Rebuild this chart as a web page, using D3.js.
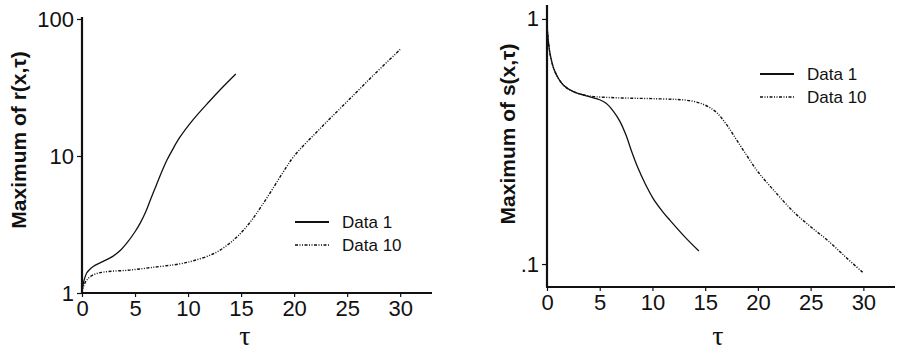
<!DOCTYPE html>
<html>
<head>
<meta charset="utf-8">
<script src="https://cdn.jsdelivr.net/npm/d3@7"></script>
<style>
  html, body { margin: 0; padding: 0; background: #fff; }
  svg { display: block; }
  text { font-family: "Liberation Sans", Arial, sans-serif; fill: #111; }
</style>
</head>
<body>
<svg id="chart" width="900" height="354"></svg>
<script>
// ---- data ----
const seriesNames = ["Data 1", "Data 10"];
const xTicks = [0, 5, 10, 15, 20, 25, 30];

// left panel: maximum of r(x, tau)
const rTau1 = [0, 0.1, 0.25, 0.44, 0.7, 1.06, 1.5, 2, 2.9, 3.7, 4.2, 5, 5.5, 6, 6.5, 7, 7.5, 8, 8.5, 9.2, 10.5, 12, 13.3, 14.5];
const rVal1 = [1, 1.15, 1.28, 1.40, 1.48, 1.56, 1.63, 1.70, 1.85, 2.08, 2.30, 2.80, 3.25, 3.9, 4.9, 6.1, 7.6, 9.3, 11.0, 13.6, 18.5, 25, 32, 39.7];
const rTau10 = [0, 0.13, 0.44, 1, 2, 4.5, 6.7, 9.2, 10.5, 12.5, 13.9, 15, 16, 17, 18, 19, 20, 22.5, 25, 27.5, 30];
const rVal10 = [1, 1.11, 1.24, 1.35, 1.42, 1.47, 1.54, 1.63, 1.72, 1.95, 2.3, 2.75, 3.4, 4.4, 5.8, 7.7, 10.0, 16, 25, 39, 60];
const rTicks = [1, 10, 100];
const rTickLabels = ["1", "10", "100"];

// right panel: maximum of s(x, tau)
const sTau1 = [0, 0.28, 0.75, 1.54, 2.5, 4, 5, 5.6, 6.3, 6.9, 7.5, 8, 8.6, 9.3, 10.07, 11, 11.65, 13, 14.4];
const sVal1 = [0.945, 0.724, 0.61, 0.538, 0.505, 0.482, 0.468, 0.453, 0.42, 0.383, 0.335, 0.29, 0.248, 0.213, 0.185, 0.163, 0.151, 0.13, 0.113];
const sTau10 = [0, 0.28, 0.75, 1.54, 2.5, 4, 6, 8, 10, 12, 13, 14, 15, 16, 17, 18, 19, 20, 21.5, 23.4, 25, 26.6, 28.3, 30];
const sVal10 = [0.945, 0.724, 0.61, 0.538, 0.505, 0.485, 0.478, 0.475, 0.473, 0.47, 0.467, 0.46, 0.445, 0.418, 0.372, 0.32, 0.275, 0.238, 0.2, 0.163, 0.142, 0.125, 0.107, 0.092];
const sTicks = [1, 0.1];
const sTickLabels = ["1", ".1"];

const svg = d3.select("#chart");
const dashPattern = "3,1.5,1,1.5,1,1.5";

function zip(xs, ys) { return xs.map((x, i) => ({ x, y: ys[i] })); }

function drawPanel(p) {
  const g = svg.append("g");
  const x = d3.scaleLinear().domain([0, 33]).range([p.left, p.right]);
  const y = d3.scaleLog().domain(p.yDomain).range([p.bottom, p.top]);

  // curves
  const line = d3.line().x(d => x(d.x)).y(d => y(d.y)).curve(d3.curveCatmullRom.alpha(0.5));
  p.series.forEach((s, i) => {
    g.append("path")
      .datum(s)
      .attr("fill", "none")
      .attr("stroke", "#111")
      .attr("stroke-width", i === 0 ? 1.3 : 1.4)
      .attr("stroke-dasharray", i === 0 ? null : dashPattern)
      .attr("d", line);
  });

  // axes
  const xAxis = d3.axisBottom(x).tickValues(xTicks).tickSize(4).tickSizeOuter(0).tickPadding(3);
  const gx = g.append("g").attr("transform", `translate(0,${p.bottom})`).call(xAxis);
  const yAxis = d3.axisLeft(y).tickValues(p.yTicks)
    .tickFormat((d, i) => p.yTickLabels[i]).tickSize(5).tickSizeOuter(0).tickPadding(3);
  const gy = g.append("g").attr("transform", `translate(${p.left},0)`).call(yAxis);

  [gx, gy].forEach(a => {
    a.select(".domain").attr("stroke", "#111").attr("stroke-width", 2.2);
    a.selectAll(".tick line").attr("stroke", "#111").attr("stroke-width", 1.2);
    a.selectAll(".tick text").attr("font-size", 22).attr("fill", "#111")
      .style("font-family", '"Liberation Sans", Arial, sans-serif');
  });
  gy.select(".domain").attr("d", `M0,${p.bottom}V${p.yAxisTop}`);
  gx.select(".domain").attr("d", `M${p.left - 1},0H${p.right}`);

  // axis titles
  g.append("text")
    .attr("transform", `translate(${p.yLabelX},${p.yLabelY}) rotate(-90)`)
    .attr("text-anchor", "middle")
    .attr("dominant-baseline", "central")
    .attr("font-size", 21)
    .attr("font-weight", "bold")
    .text(p.yLabel);
  g.append("text")
    .attr("x", p.tauX).attr("y", 345)
    .attr("text-anchor", "middle")
    .style("font-family", '"Liberation Serif", "DejaVu Serif", serif')
    .attr("font-size", 28)
    .text("τ");

  // legend
  seriesNames.forEach((name, i) => {
    const ly = p.legendY + i * 23;
    g.append("line")
      .attr("x1", p.legendX).attr("x2", p.legendX + 34)
      .attr("y1", ly).attr("y2", ly)
      .attr("stroke", "#111")
      .attr("stroke-width", i === 0 ? 2 : 1.6)
      .attr("stroke-dasharray", i === 0 ? null : dashPattern);
    g.append("text")
      .attr("x", p.legendX + 47).attr("y", ly)
      .attr("dominant-baseline", "central")
      .attr("font-size", 17)
      .text(name);
  });
}

drawPanel({
  left: 82, right: 432, top: 19, bottom: 293, yAxisTop: 17,
  yDomain: [1, 100], yTicks: rTicks, yTickLabels: rTickLabels,
  series: [zip(rTau1, rVal1), zip(rTau10, rVal10)],
  yLabel: "Maximum of r(x,τ)", yLabelX: 18, yLabelY: 140,
  tauX: 245, legendX: 295, legendY: 222
});

drawPanel({
  left: 547, right: 895, top: 5, bottom: 287, yAxisTop: 5,
  yDomain: [0.0806, 1.14], yTicks: sTicks, yTickLabels: sTickLabels,
  series: [zip(sTau1, sVal1), zip(sTau10, sVal10)],
  yLabel: "Maximum of s(x,τ)", yLabelX: 507, yLabelY: 134,
  tauX: 718, legendX: 760, legendY: 74
});
</script>
</body>
</html>
